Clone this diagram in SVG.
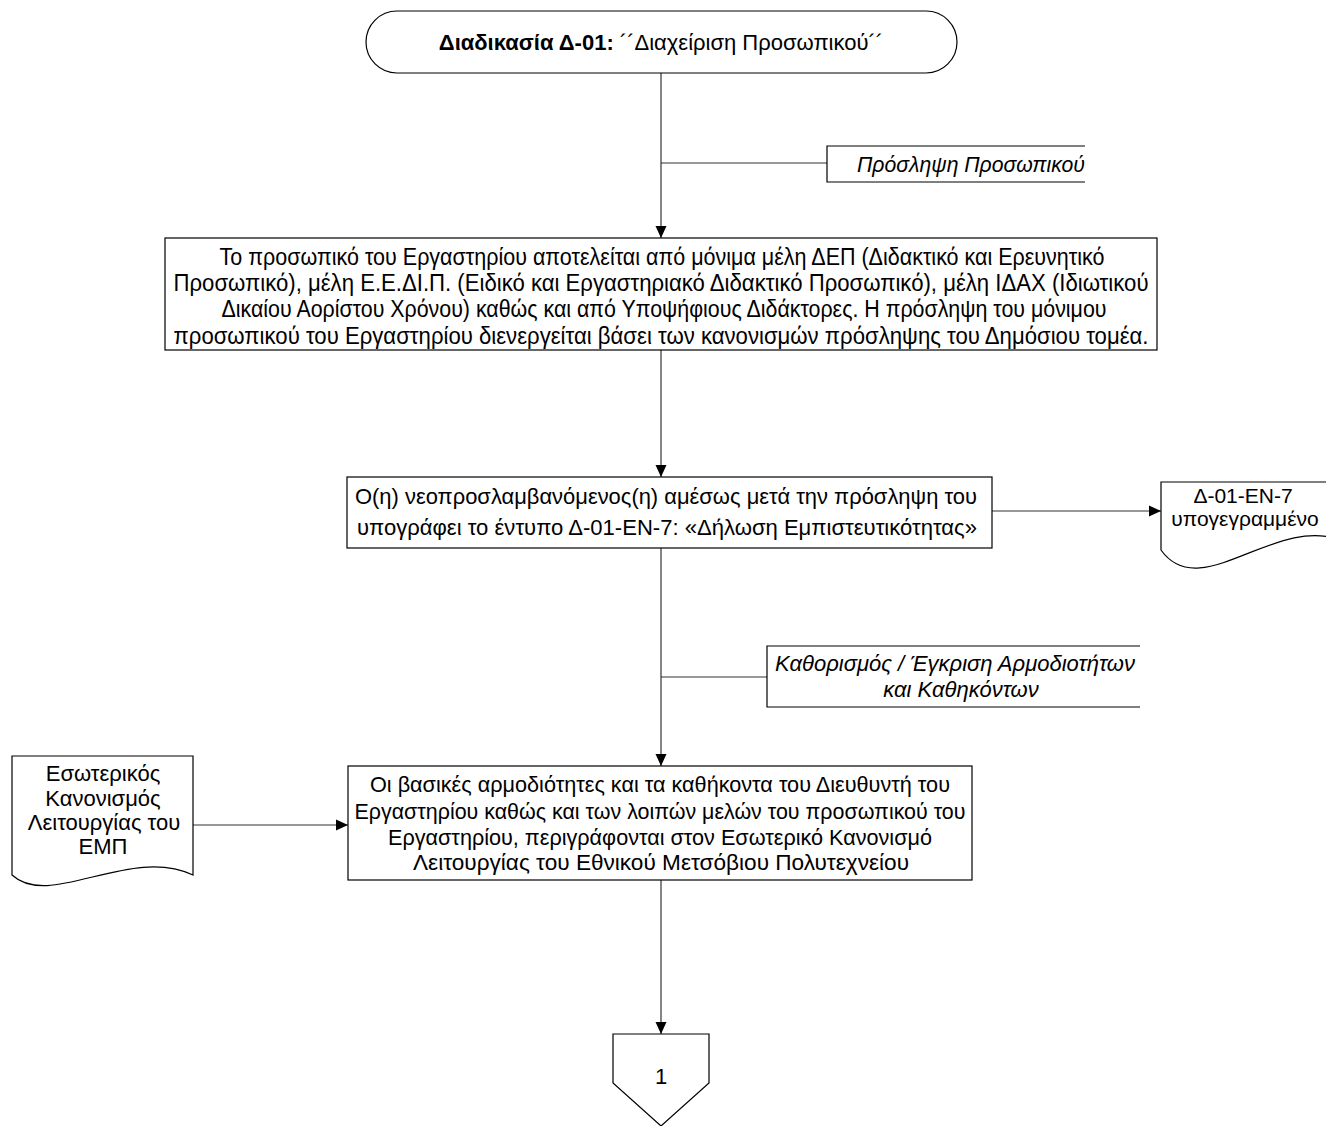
<svg xmlns="http://www.w3.org/2000/svg" width="1326" height="1126" viewBox="0 0 1326 1126">
<style>
.shape{fill:#fff;stroke:#000;stroke-width:1.2}
.conn{fill:none;stroke:#333;stroke-width:1.2}
.t{font-family:"Liberation Sans",Arial,sans-serif;font-size:22px;fill:#000;text-anchor:middle}
.n{font-size:23px}
.d{font-size:21px}
.it{font-style:italic}
.b{font-weight:bold}
</style>
<defs>
<marker id="arr" markerUnits="userSpaceOnUse" markerWidth="12" markerHeight="12" viewBox="0 0 12 12" refX="12" refY="6" orient="auto">
<path d="M0,0.5 L12,6 L0,11.5 Z" fill="#000"/>
</marker>
</defs>
<g id="connectors">
<path class="conn" d="M661,73 V238" marker-end="url(#arr)"/>
<path class="conn" d="M661,163 H827"/>
<path class="conn" d="M661,350 V477" marker-end="url(#arr)"/>
<path class="conn" d="M992,511 H1161" marker-end="url(#arr)"/>
<path class="conn" d="M661,548 V766" marker-end="url(#arr)"/>
<path class="conn" d="M661,677 H767"/>
<path class="conn" d="M193,825 H348" marker-end="url(#arr)"/>
<path class="conn" d="M661,880 V1034" marker-end="url(#arr)"/>
</g>
<g id="start">
<rect class="shape" x="366" y="11" width="591" height="62" rx="31" ry="31"/>
<text class="t" x="661" y="50"><tspan class="b">Διαδικασία Δ-01:</tspan> ´´Διαχείριση Προσωπικού´´</text>
</g>
<g id="annot1">
<path class="conn" d="M1085,146 H827 V182 H1085" style="stroke:#000"/>
<text class="t it" x="971" y="172" textLength="228" lengthAdjust="spacingAndGlyphs">Πρόσληψη Προσωπικού</text>
</g>
<g id="box1">
<rect class="shape" x="165" y="238" width="992" height="112"/>
<text class="t n" x="662" y="265" textLength="885" lengthAdjust="spacingAndGlyphs">Το προσωπικό του Εργαστηρίου αποτελείται από μόνιμα μέλη ΔΕΠ (Διδακτικό και Ερευνητικό</text>
<text class="t n" x="661" y="291" textLength="975" lengthAdjust="spacingAndGlyphs">Προσωπικό), μέλη Ε.Ε.ΔΙ.Π. (Ειδικό και Εργαστηριακό Διδακτικό Προσωπικό), μέλη ΙΔΑΧ (Ιδιωτικού</text>
<text class="t n" x="664" y="317" textLength="885" lengthAdjust="spacingAndGlyphs">Δικαίου Αορίστου Χρόνου) καθώς και από Υποψήφιους Διδάκτορες. Η πρόσληψη του μόνιμου</text>
<text class="t n" x="661" y="344" textLength="975" lengthAdjust="spacingAndGlyphs">προσωπικού του Εργαστηρίου διενεργείται βάσει των κανονισμών πρόσληψης του Δημόσιου τομέα.</text>
</g>
<g id="box2">
<rect class="shape" x="347" y="477" width="645" height="71"/>
<text class="t" x="666" y="504" textLength="622" lengthAdjust="spacingAndGlyphs">Ο(η) νεοπροσλαμβανόμενος(η) αμέσως μετά την πρόσληψη του</text>
<text class="t" x="667" y="535" textLength="620" lengthAdjust="spacingAndGlyphs">υπογράφει το έντυπο Δ-01-ΕΝ-7: «Δήλωση Εμπιστευτικότητας»</text>
</g>
<g id="doc1">
<path class="shape" d="M1161,482 H1340 V540 C1275,515 1200,605 1161,550 Z"/>
<text class="t d" x="1243" y="503">Δ-01-ΕΝ-7</text>
<text class="t d" x="1245" y="526">υπογεγραμμένο</text>
</g>
<g id="annot2">
<path class="conn" d="M1140,646 H767 V707 H1140" style="stroke:#000"/>
<text class="t it" x="955" y="671" textLength="360" lengthAdjust="spacingAndGlyphs">Καθορισμός / Έγκριση Αρμοδιοτήτων</text>
<text class="t it" x="961" y="697">και Καθηκόντων</text>
</g>
<g id="doc2">
<path class="shape" d="M12,756 H193 V875 C130,845 50,910 12,875 Z"/>
<text class="t" x="103" y="781">Εσωτερικός</text>
<text class="t" x="103" y="806">Κανονισμός</text>
<text class="t" x="104" y="830">Λειτουργίας του</text>
<text class="t" x="103" y="854">ΕΜΠ</text>
</g>
<g id="box3">
<rect class="shape" x="348" y="766" width="624" height="114"/>
<text class="t" x="660" y="792" textLength="580" lengthAdjust="spacingAndGlyphs">Οι βασικές αρμοδιότητες και τα καθήκοντα του Διευθυντή του</text>
<text class="t" x="660" y="819" textLength="611" lengthAdjust="spacingAndGlyphs">Εργαστηρίου καθώς και των λοιπών μελών του προσωπικού του</text>
<text class="t" x="660" y="845" textLength="544" lengthAdjust="spacingAndGlyphs">Εργαστηρίου, περιγράφονται στον Εσωτερικό Κανονισμό</text>
<text class="t" x="661" y="870" textLength="496" lengthAdjust="spacingAndGlyphs">Λειτουργίας του Εθνικού Μετσόβιου Πολυτεχνείου</text>
</g>
<g id="offpage">
<path class="shape" d="M613,1034 H709 V1083 L661,1126 L613,1083 Z"/>
<text class="t" x="661" y="1084">1</text>
</g>
</svg>
